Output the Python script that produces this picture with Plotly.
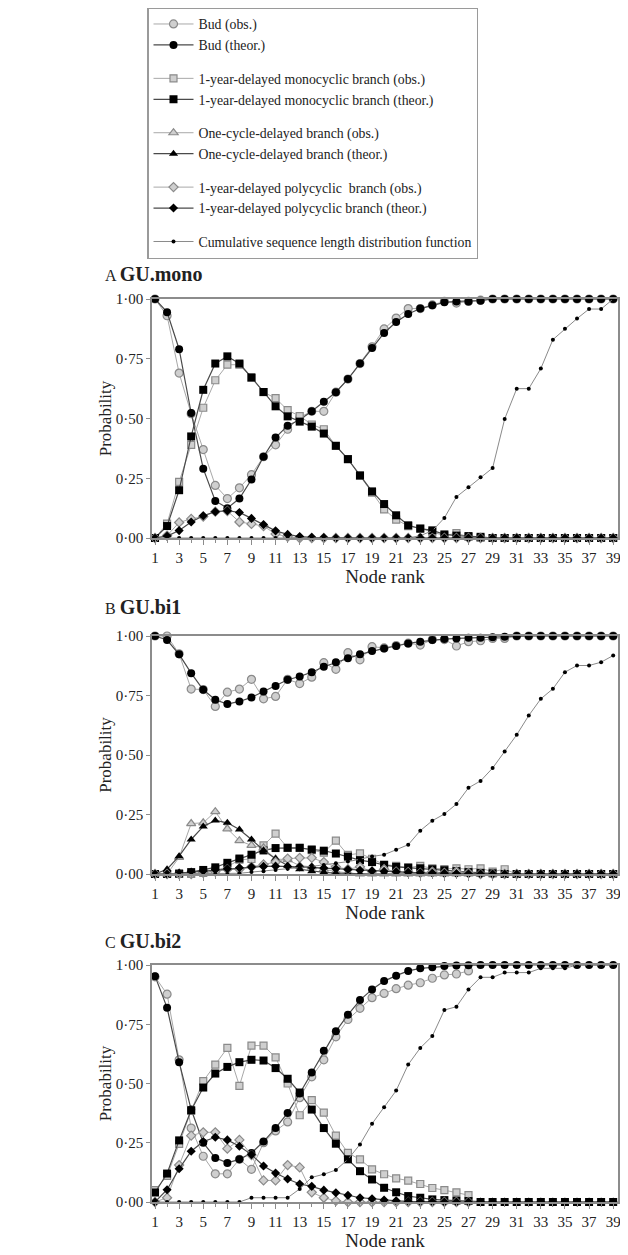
import plotly.graph_objects as go

# ---------------- data ----------------
NODE_RANK = list(range(1, 40))
X_TICK_VALS = list(range(1, 40, 2))
Y_TICK_VALS = [0.0, 0.25, 0.5, 0.75, 1.0]
Y_TICK_TEXT = ["0·00", "0·25", "0·50", "0·75", "1·00"]
PANEL_LETTERS = ["A", "B", "C"]
PANEL_NAMES = ["GU.mono", "GU.bi1", "GU.bi2"]

# Panel A : GU.mono
A_bud_obs = [1.00, 0.93, 0.69, 0.52, 0.37, 0.22, 0.165, 0.21, 0.265, 0.34, 0.39, 0.455, 0.505,
             0.53, 0.53, 0.61, 0.665, 0.73, 0.80, 0.875, 0.92, 0.96, 0.96, 0.975, 0.99, 0.983,
             0.99, 0.995, 1.0, 1.0, 1.0, 1.0, 1.0, 1.0, 1.0, 1.0, 1.0, 1.0, 1.0]
A_bud_theor = [1.00, 0.945, 0.79, 0.523, 0.29, 0.155, 0.125, 0.165, 0.245, 0.34, 0.42, 0.47, 0.495,
               0.53, 0.57, 0.61, 0.665, 0.73, 0.795, 0.858, 0.904, 0.937, 0.96, 0.974, 0.986, 0.99,
               0.99, 0.993, 1.0, 1.0, 1.0, 1.0, 1.0, 1.0, 1.0, 1.0, 1.0, 1.0, 1.0]
A_mono_obs = [0.0, 0.06, 0.235, 0.39, 0.545, 0.66, 0.725, 0.725, 0.67, 0.61, 0.585, 0.535, 0.51,
              0.475, 0.455, 0.385, 0.33, 0.26, 0.19, 0.12, 0.077, 0.05, 0.04, 0.025, 0.01, 0.02,
              0.005, 0.0, 0.0, 0.0, 0.0, 0.0, 0.0, 0.0, 0.0, 0.0, 0.0, 0.0, 0.0]
A_mono_theor = [0.0, 0.05, 0.20, 0.425, 0.62, 0.73, 0.76, 0.73, 0.672, 0.611, 0.551, 0.509, 0.487,
                0.466, 0.437, 0.386, 0.33, 0.262, 0.195, 0.142, 0.095, 0.053, 0.039, 0.032, 0.015,
                0.01, 0.008, 0.005, 0.0, 0.0, 0.0, 0.0, 0.0, 0.0, 0.0, 0.0, 0.0, 0.0, 0.0]
A_poly_obs = [0.0, 0.01, 0.065, 0.08, 0.09, 0.11, 0.113, 0.067, 0.059, 0.05, 0.017, 0.005, 0.0,
              0.0, 0.0, 0.0, 0.0, 0.0, 0.0, 0.0, 0.0, 0.0, 0.0, 0.0, 0.0, 0.0,
              0.0, 0.0, 0.0, 0.0, 0.0, 0.0, 0.0, 0.0, 0.0, 0.0, 0.0, 0.0, 0.0]
A_poly_theor = [0.0, 0.008, 0.031, 0.067, 0.093, 0.11, 0.114, 0.107, 0.082, 0.056, 0.03, 0.015, 0.006,
                0.003, 0.002, 0.0, 0.0, 0.0, 0.0, 0.0, 0.0, 0.0, 0.0, 0.0, 0.0, 0.0,
                0.0, 0.0, 0.0, 0.0, 0.0, 0.0, 0.0, 0.0, 0.0, 0.0, 0.0, 0.0, 0.0]
A_cumul = [0.0, 0.0, 0.0, 0.0, 0.0, 0.0, 0.0, 0.0, 0.0, 0.0, 0.0, 0.0, 0.0,
           0.0, 0.0, 0.0, 0.0, 0.0, 0.0, 0.0, 0.0, 0.0, 0.01, 0.03, 0.084, 0.172,
           0.212, 0.254, 0.293, 0.498, 0.625, 0.625, 0.709, 0.83, 0.876, 0.918, 0.958, 0.958, 1.0]

# Panel B : GU.bi1
B_bud_obs = [1.0, 1.0, 0.925, 0.777, 0.775, 0.704, 0.764, 0.777, 0.818, 0.736, 0.746, 0.818, 0.80,
             0.827, 0.888, 0.86, 0.93, 0.90, 0.955, 0.95, 0.96, 0.97, 0.962, 0.985, 0.985, 0.958,
             0.976, 0.98, 0.99, 0.99, 1.0, 1.0, 1.0, 1.0, 1.0, 1.0, 1.0, 1.0, 1.0]
B_bud_theor = [1.0, 0.983, 0.923, 0.844, 0.774, 0.732, 0.714, 0.725, 0.742, 0.767, 0.79, 0.816, 0.83,
               0.848, 0.871, 0.89, 0.906, 0.923, 0.937, 0.948, 0.958, 0.969, 0.976, 0.983, 0.987,
               0.99, 0.993, 0.993, 0.995, 0.997, 1.0, 1.0, 1.0, 1.0, 1.0, 1.0, 1.0, 1.0, 1.0]
B_mono_obs = [0.0, 0.0, 0.0, 0.0, 0.005, 0.015, 0.03, 0.06, 0.063, 0.12, 0.17, 0.11, 0.11,
              0.10, 0.09, 0.14, 0.08, 0.087, 0.064, 0.04, 0.034, 0.027, 0.034, 0.024, 0.021, 0.024,
              0.02, 0.024, 0.01, 0.02, 0.0, 0.0, 0.0, 0.0, 0.0, 0.0, 0.0, 0.0, 0.0]
B_mono_theor = [0.0, 0.0, 0.002, 0.008, 0.017, 0.028, 0.047, 0.065, 0.081, 0.099, 0.109, 0.11, 0.11,
                0.103, 0.098, 0.086, 0.073, 0.058, 0.05, 0.038, 0.03, 0.027, 0.024, 0.02, 0.016,
                0.012, 0.008, 0.005, 0.003, 0.0, 0.0, 0.0, 0.0, 0.0, 0.0, 0.0, 0.0, 0.0, 0.0]
B_cycle_obs = [0.0, 0.0, 0.07, 0.212, 0.215, 0.262, 0.19, 0.14, 0.12, 0.11, 0.063, 0.06, 0.035,
               0.03, 0.02, 0.01, 0.005, 0.0, 0.0, 0.0, 0.0, 0.0, 0.0, 0.0, 0.0, 0.0,
               0.0, 0.0, 0.0, 0.0, 0.0, 0.0, 0.0, 0.0, 0.0, 0.0, 0.0, 0.0, 0.0]
B_cycle_theor = [0.0, 0.02, 0.075, 0.145, 0.20, 0.225, 0.215, 0.187, 0.145, 0.10, 0.064, 0.036, 0.02,
                 0.012, 0.007, 0.004, 0.002, 0.0, 0.0, 0.0, 0.0, 0.0, 0.0, 0.0, 0.0, 0.0,
                 0.0, 0.0, 0.0, 0.0, 0.0, 0.0, 0.0, 0.0, 0.0, 0.0, 0.0, 0.0, 0.0]
B_poly_obs = [0.0, 0.0, 0.0, 0.0, 0.005, 0.01, 0.02, 0.02, 0.03, 0.04, 0.05, 0.065, 0.068,
              0.068, 0.05, 0.03, 0.02, 0.03, 0.01, 0.02, 0.01, 0.008, 0.005, 0.01, 0.005, 0.01,
              0.005, 0.0, 0.0, 0.0, 0.0, 0.0, 0.0, 0.0, 0.0, 0.0, 0.0, 0.0, 0.0]
B_poly_theor = [0.0, 0.0, 0.004, 0.008, 0.013, 0.018, 0.022, 0.026, 0.029, 0.032, 0.033, 0.032, 0.03,
                0.028, 0.025, 0.022, 0.019, 0.016, 0.013, 0.011, 0.009, 0.007, 0.005, 0.004, 0.003,
                0.002, 0.001, 0.0, 0.0, 0.0, 0.0, 0.0, 0.0, 0.0, 0.0, 0.0, 0.0, 0.0, 0.0]
B_cumul = [0.0, 0.0, 0.0, 0.0, 0.0, 0.0, 0.0, 0.003, 0.008, 0.012, 0.017, 0.022, 0.027,
           0.032, 0.038, 0.045, 0.052, 0.062, 0.074, 0.081, 0.102, 0.123, 0.182, 0.224, 0.252, 0.294,
           0.362, 0.391, 0.445, 0.515, 0.585, 0.666, 0.736, 0.778, 0.848, 0.876, 0.876, 0.89, 0.918]

# Panel C : GU.bi2
C_bud_obs = [0.95, 0.877, 0.60, 0.312, 0.193, 0.119, 0.119, 0.18, 0.138, 0.25, 0.30, 0.338, 0.44,
             0.528, 0.60, 0.697, 0.77, 0.817, 0.862, 0.88, 0.90, 0.915, 0.925, 0.944, 0.958, 0.962,
             0.975, None, None, None, None, None, None, None, None, None, None, None, None]
C_bud_theor = [0.953, 0.82, 0.59, 0.39, 0.25, 0.186, 0.165, 0.18, 0.207, 0.255, 0.312, 0.376, 0.458,
               0.546, 0.638, 0.72, 0.79, 0.852, 0.897, 0.932, 0.955, 0.975, 0.986, 0.99, 0.996,
               0.998, 0.999, 1.0, 1.0, 1.0, 1.0, 1.0, 1.0, 1.0, 1.0, 1.0, 1.0, 1.0, 1.0]
C_mono_obs = [0.05, 0.11, 0.245, 0.385, 0.51, 0.58, 0.65, 0.49, 0.66, 0.66, 0.61, 0.50, 0.366,
              0.43, 0.377, 0.28, 0.207, 0.18, 0.138, 0.117, 0.10, 0.09, 0.076, 0.059, 0.05, 0.041,
              0.029, None, None, None, None, None, None, None, None, None, None, None, None]
C_mono_theor = [0.04, 0.12, 0.26, 0.387, 0.483, 0.542, 0.57, 0.59, 0.60, 0.597, 0.565, 0.52, 0.462,
                0.39, 0.312, 0.246, 0.18, 0.13, 0.095, 0.06, 0.041, 0.025, 0.018, 0.011, 0.008,
                0.006, 0.004, 0.0, 0.0, 0.0, 0.0, 0.0, 0.0, 0.0, 0.0, 0.0, 0.0, 0.0, 0.0]
C_poly_obs = [0.0, 0.018, 0.156, 0.28, 0.294, 0.294, 0.225, 0.262, 0.198, 0.091, 0.091, 0.156, 0.146,
              0.041, 0.018, 0.005, 0.0, 0.0, 0.0, 0.0, 0.0, 0.0, 0.0, 0.0, 0.0, 0.0,
              0.0, None, None, None, None, None, None, None, None, None, None, None, None]
C_poly_theor = [0.0, 0.052, 0.14, 0.214, 0.255, 0.273, 0.262, 0.235, 0.20, 0.152, 0.122, 0.097, 0.076,
                0.066, 0.05, 0.039, 0.028, 0.018, 0.014, 0.008, 0.005, 0.003, 0.002, 0.001, 0.0,
                0.0, 0.0, 0.0, 0.0, 0.0, 0.0, 0.0, 0.0, 0.0, 0.0, 0.0, 0.0, 0.0, 0.0]
C_cumul = [0.0, 0.0, 0.0, 0.0, 0.0, 0.0, 0.0, 0.0, 0.018, 0.018, 0.018, 0.018, 0.055,
           0.104, 0.117, 0.135, 0.18, 0.243, 0.33, 0.40, 0.47, 0.58, 0.65, 0.70, 0.81, 0.824,
           0.897, 0.948, 0.948, 0.968, 0.968, 0.968, 0.986, 0.986, 0.986, 1.0, 1.0, 1.0, 1.0]

# ---------------- styling ----------------
FONT = "Liberation Serif, Times New Roman, serif"
PAGE_OFFSET = 8                     # the page body margin shifts the figure by 8 px
W, H = 628 - PAGE_OFFSET, 1255 - PAGE_OFFSET
AXIS_COLOR = "#8c8c8c"
OBS_LINE = "#a8a8a8"
THEOR_LINE = "#4a4a4a"
OBS_FILL = "#cfcfcf"
OBS_EDGE = "#8a8a8a"
TEXT_COLOR = "#222222"

STYLE = {
    "bud_obs": dict(name="Bud (obs.)", group="g1", symbol="circle", size=8, obs=True),
    "bud_theor": dict(name="Bud (theor.)", group="g1", symbol="circle", size=8, obs=False),
    "mono_obs": dict(name="1-year-delayed monocyclic branch (obs.)", group="g2", symbol="square", size=7, obs=True),
    "mono_theor": dict(name="1-year-delayed monocyclic branch (theor.)", group="g2", symbol="square", size=8, obs=False),
    "cycle_obs": dict(name="One-cycle-delayed branch (obs.)", group="g3", symbol="triangle-up", size=8, obs=True),
    "cycle_theor": dict(name="One-cycle-delayed branch (theor.)", group="g3", symbol="triangle-up", size=8, obs=False),
    "poly_obs": dict(name="1-year-delayed polycyclic  branch (obs.)", group="g4", symbol="diamond", size=7, obs=True),
    "poly_theor": dict(name="1-year-delayed polycyclic branch (theor.)", group="g4", symbol="diamond", size=7, obs=False),
    "cumul": dict(name="Cumulative sequence length distribution function", group="g5", symbol="circle", size=4, obs=None),
}
ORDER = ["bud_obs", "bud_theor", "mono_obs", "mono_theor", "cycle_obs", "cycle_theor",
         "poly_obs", "poly_theor", "cumul"]

PANELS = [
    {"bud_obs": A_bud_obs, "bud_theor": A_bud_theor, "mono_obs": A_mono_obs, "mono_theor": A_mono_theor,
     "poly_obs": A_poly_obs, "poly_theor": A_poly_theor, "cumul": A_cumul},
    {"bud_obs": B_bud_obs, "bud_theor": B_bud_theor, "mono_obs": B_mono_obs, "mono_theor": B_mono_theor,
     "cycle_obs": B_cycle_obs, "cycle_theor": B_cycle_theor, "poly_obs": B_poly_obs,
     "poly_theor": B_poly_theor, "cumul": B_cumul},
    {"bud_obs": C_bud_obs, "bud_theor": C_bud_theor, "mono_obs": C_mono_obs, "mono_theor": C_mono_theor,
     "poly_obs": C_poly_obs, "poly_theor": C_poly_theor, "cumul": C_cumul},
]
LEGEND_PANEL = 1

# page-pixel layout (top/bottom of each plot area); right edge kept inside the visible width
PLOT_LEFT, PLOT_RIGHT = 152, 618
PANEL_TOP = [299, 636, 965]
PANEL_BOTTOM = [538, 874, 1202]
LABEL_Y = [274, 607, 941]
LEGEND_LEFT, LEGEND_TOP = 147, 7


def px_x(p):
    return (p - PAGE_OFFSET) / W


def px_y(p):
    return 1 - (p - PAGE_OFFSET) / H


fig = go.Figure()

panel_order = [LEGEND_PANEL] + [i for i in range(3) if i != LEGEND_PANEL]
for p in panel_order:
    data = PANELS[p]
    suffix = "" if p == 0 else str(p + 1)
    for key in ORDER:
        if key not in data:
            continue
        st = STYLE[key]
        if st["obs"] is True:
            marker = dict(symbol=st["symbol"], size=st["size"], color=OBS_FILL,
                          line=dict(color=OBS_EDGE, width=1.2))
            line = dict(color=OBS_LINE, width=1)
        elif st["obs"] is False:
            marker = dict(symbol=st["symbol"], size=st["size"], color="#000000",
                          line=dict(color="#000000", width=0))
            line = dict(color=THEOR_LINE, width=1.2)
        else:
            marker = dict(symbol=st["symbol"], size=st["size"], color="#000000",
                          line=dict(width=0))
            line = dict(color="#8a8a8a", width=1)
        fig.add_trace(go.Scatter(
            x=NODE_RANK, y=data[key], mode="lines+markers", name=st["name"],
            legendgroup=st["group"], showlegend=(p == LEGEND_PANEL),
            marker=marker, line=line, cliponaxis=False,
            xaxis="x" + suffix, yaxis="y" + suffix, connectgaps=False,
        ))

layout = dict(
    width=W, height=H,
    margin=dict(l=0, r=0, t=0, b=0, autoexpand=False),
    paper_bgcolor="white", plot_bgcolor="white",
    font=dict(family=FONT, color=TEXT_COLOR, size=15),
    showlegend=True,
    legend=dict(x=px_x(LEGEND_LEFT), y=px_y(LEGEND_TOP), xanchor="left", yanchor="top",
                bordercolor="#9a9a9a", borderwidth=1.5, bgcolor="white",
                font=dict(family=FONT, size=13.8, color=TEXT_COLOR),
                tracegroupgap=12.5, traceorder="grouped", itemwidth=40),
    annotations=[],
)

for i in range(3):
    sx = "" if i == 0 else str(i + 1)
    xdom = [px_x(PLOT_LEFT), px_x(PLOT_RIGHT)]
    ydom = [px_y(PANEL_BOTTOM[i]), px_y(PANEL_TOP[i])]
    layout["xaxis" + sx] = dict(
        domain=xdom, anchor="y" + sx, range=[0.75, 39.4],
        tickmode="array", tickvals=X_TICK_VALS, ticktext=[str(v) for v in X_TICK_VALS],
        ticks="outside", ticklen=5, tickwidth=1, tickcolor=AXIS_COLOR,
        minor=dict(tickmode="linear", tick0=0, dtick=1, ticks="outside", ticklen=3,
                   tickwidth=1, tickcolor=AXIS_COLOR, showgrid=False),
        showline=True, linecolor=AXIS_COLOR, linewidth=1.5, mirror=True,
        showgrid=False, zeroline=False, automargin=False,
        tickfont=dict(family=FONT, size=15, color=TEXT_COLOR),
        title=dict(text="Node rank", font=dict(family=FONT, size=19, color=TEXT_COLOR), standoff=4),
    )
    layout["yaxis" + sx] = dict(
        domain=ydom, anchor="x" + sx, range=[0, 1],
        tickmode="array", tickvals=Y_TICK_VALS, ticktext=Y_TICK_TEXT,
        ticks="outside", ticklen=4, tickwidth=1, tickcolor=AXIS_COLOR,
        showline=True, linecolor=AXIS_COLOR, linewidth=1.5, mirror=True,
        showgrid=False, zeroline=False, automargin=False,
        tickfont=dict(family=FONT, size=15, color=TEXT_COLOR),
        title=dict(text="Probability", font=dict(family=FONT, size=17, color=TEXT_COLOR), standoff=0),
    )
    layout["annotations"].append(dict(
        x=px_x(103), y=px_y(LABEL_Y[i]), xref="paper", yref="paper",
        xanchor="left", yanchor="middle", showarrow=False,
        text=PANEL_LETTERS[i] + " <span style='font-size:20px'><b>" + PANEL_NAMES[i] + "</b></span>",
        font=dict(family=FONT, size=16, color=TEXT_COLOR),
    ))

fig.update_layout(**layout)
fig.write_html("out.html")
